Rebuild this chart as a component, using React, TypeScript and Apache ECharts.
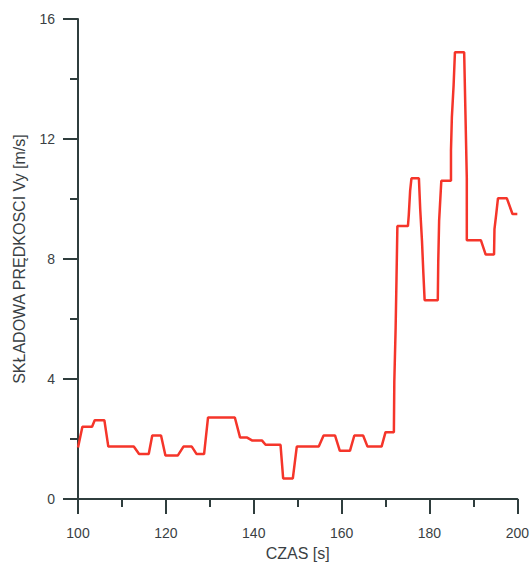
import React, { useEffect, useRef } from "react";
import * as echarts from "echarts";

const timeS = [
  100, 101, 103.2, 103.8, 106, 106.9, 112.7, 113.9, 116.1, 116.9, 118.9, 119.9,
  122.7, 124, 125.9, 127, 128.7, 129.6, 135.7, 136.9, 138.5, 139.7, 141.9, 142.7,
  146.1, 146.7, 148.9, 149.8, 154.8, 155.9, 158.5, 159.6, 161.9, 162.9, 164.9,
  165.9, 169.1, 170, 171.9, 172.0, 172.3, 172.5, 172.7, 175.1, 175.3, 175.6,
  175.9, 177.6, 177.9, 178.3, 178.6, 178.9, 181.9, 182.0, 182.2, 182.7, 184.9,
  184.9, 185.1, 185.5, 185.8, 187.9, 188.2, 188.5, 188.5, 191.7, 192.8, 194.7,
  194.8, 195.2, 195.6, 197.6, 198.9, 200,
];
const vyValues = [
  1.72, 2.41, 2.41, 2.63, 2.63, 1.75, 1.75, 1.5, 1.5, 2.12, 2.12, 1.45, 1.45,
  1.75, 1.75, 1.5, 1.5, 2.72, 2.72, 2.05, 2.05, 1.95, 1.95, 1.81, 1.81, 0.69,
  0.69, 1.75, 1.75, 2.12, 2.12, 1.61, 1.61, 2.12, 2.12, 1.75, 1.75, 2.23, 2.23,
  3.9, 5.7, 7.35, 9.1, 9.1, 9.48, 10.27, 10.69, 10.69, 9.65, 8.6, 7.57, 6.63,
  6.63, 7.9, 9.27, 10.61, 10.61, 11.62, 12.72, 13.8, 14.89, 14.89, 12.8, 10.69,
  8.63, 8.63, 8.15, 8.15, 9.0, 9.5, 10.03, 10.03, 9.5, 9.5,
];

const xName = "CZAS [s]";
const yName = "SKŁADOWA PRĘDKOSCI Vy [m/s]";

export default function App() {
  const ref = useRef<HTMLDivElement>(null);
  useEffect(() => {
    if (!ref.current) return;
    const chart = echarts.init(ref.current, null, { renderer: "svg" });
    const axisColor = "#2f3d3d";
    const labelColor = "#3a3f44";
    chart.setOption({
      animation: false,
      backgroundColor: "#ffffff",
      grid: { left: 78, right: 12, top: 19, bottom: 62, containLabel: false },
      xAxis: {
        type: "value",
        min: 100,
        max: 200,
        interval: 20,
        name: xName,
        nameLocation: "middle",
        nameGap: 44,
        nameTextStyle: { fontFamily: "Arial, Liberation Sans", fontSize: 16, color: labelColor },
        axisLine: { show: true, onZero: false, lineStyle: { color: axisColor, width: 2 } },
        axisTick: { show: true, inside: false, length: 15, lineStyle: { color: axisColor, width: 2 } },
        minorTick: { show: true, splitNumber: 2, length: 8, lineStyle: { color: axisColor, width: 2 } },
        splitLine: { show: false },
        axisLabel: { margin: 27, fontFamily: "Arial, Liberation Sans", fontSize: 14, color: labelColor },
      },
      yAxis: {
        type: "value",
        min: 0,
        max: 16,
        interval: 4,
        name: yName,
        nameLocation: "middle",
        nameGap: 51,
        nameTextStyle: { fontFamily: "Arial, Liberation Sans", fontSize: 16, color: labelColor },
        axisLine: { show: true, onZero: false, lineStyle: { color: axisColor, width: 2 } },
        axisTick: { show: true, inside: false, length: 15, lineStyle: { color: axisColor, width: 2 } },
        minorTick: { show: true, splitNumber: 2, length: 8, lineStyle: { color: axisColor, width: 2 } },
        splitLine: { show: false },
        axisLabel: { margin: 23, fontFamily: "Arial, Liberation Sans", fontSize: 14, color: labelColor },
      },
      series: [
        {
          type: "line",
          data: timeS.map((t, i) => [t, vyValues[i]]),
          showSymbol: false,
          symbol: "none",
          lineStyle: { color: "#f5352a", width: 2.5 },
          z: 1,
        },
      ],
    });
    return () => chart.dispose();
  }, []);
  return <div ref={ref} style={{ width: 532, height: 566, position: "absolute", left: 0, top: 0 }} />;
}
